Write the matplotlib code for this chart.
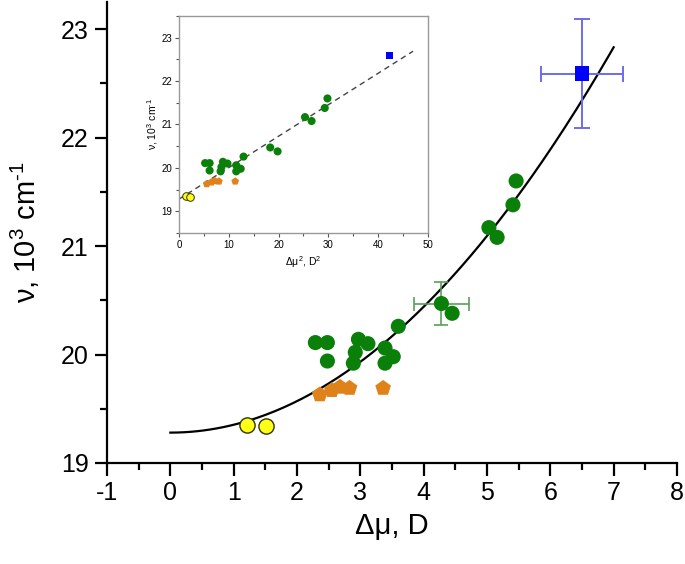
import numpy as np
import matplotlib
matplotlib.use("Agg")
import matplotlib.pyplot as plt

plt.rcParams['font.family'] = ['Liberation Sans', 'DejaVu Sans']
plt.rcParams['mathtext.fontset'] = 'custom'
plt.rcParams['mathtext.rm'] = 'Liberation Sans'
plt.rcParams['mathtext.it'] = 'Liberation Sans'
plt.rcParams['axes.unicode_minus'] = False

# data: dipole moment change (D) and band position (10^3 cm-1)
yellow_x = [1.21, 1.51]
yellow_y = [19.35, 19.34]

orange_x = [2.36, 2.55, 2.68, 2.83, 3.36]
orange_y = [19.63, 19.67, 19.70, 19.69, 19.69]

green_x = [2.29, 2.48, 2.48, 2.97, 3.12, 2.92, 2.89, 3.39, 3.52, 3.39, 3.60,
           4.28, 4.45, 5.03, 5.16, 5.41, 5.46]
green_y = [20.11, 20.11, 19.94, 20.14, 20.10, 20.02, 19.92, 20.06, 19.98, 19.92, 20.26,
           20.47, 20.38, 21.17, 21.08, 21.38, 21.60]

# point with error bars
green_err_x, green_err_y = 4.28, 20.47
green_xerr, green_yerr = 0.43, 0.20

blue_x, blue_y = 6.50, 22.59
blue_xerr, blue_yerr = 0.65, 0.50

# quadratic fit nu = nu0 + k * dmu^2
nu0 = 19.28
k = 0.0725

GREEN = '#0a800a'
ORANGE = '#e0821a'
YELLOW = '#ffff1a'
BLUE = '#0000ff'

ylab = 'ν, 10$^3$ cm$^{\u20101}$'

fig = plt.figure(figsize=(6.85, 5.64), dpi=100)
ax = fig.add_axes([0.1562, 0.1791, 0.8321, 0.8174])

xx = np.linspace(0, 7, 200)
ax.plot(xx, nu0 + k * xx**2, color='black', lw=1.6, zorder=2)

ax.errorbar(green_err_x, green_err_y, xerr=green_xerr, yerr=green_yerr, fmt='none',
            ecolor='#5b9e5b', elinewidth=1.2, capsize=5, capthick=1.2, zorder=3)
ax.errorbar(blue_x, blue_y, xerr=blue_xerr, yerr=blue_yerr, fmt='none',
            ecolor='#6b6bef', elinewidth=1.4, capsize=6, capthick=1.4, zorder=3)

ax.scatter(green_x, green_y, s=118, color=GREEN, edgecolor='none', zorder=4)
ax.scatter(orange_x, orange_y, s=140, marker='p', color=ORANGE, edgecolor='none', zorder=4)
ax.scatter(yellow_x, yellow_y, s=120, color=YELLOW, edgecolor='#333300', lw=1.0, zorder=4)
ax.scatter([blue_x], [blue_y], s=105, marker='s', color=BLUE, edgecolor='none', zorder=5)

ax.set_xlim(-1, 8)
ax.set_ylim(19, 23.25)
ax.set_xticks(np.arange(-1, 9, 1))
ax.set_xticks(np.arange(-0.5, 8, 1), minor=True)
ax.set_yticks([19, 20, 21, 22, 23])
ax.set_yticks([19.5, 20.5, 21.5, 22.5], minor=True)
for s in ['top', 'right']:
    ax.spines[s].set_visible(False)
for s in ['left', 'bottom']:
    ax.spines[s].set_linewidth(1.6)
ax.tick_params(which='major', direction='out', length=9, width=1.6, labelsize=18, pad=4)
ax.tick_params(which='minor', direction='out', length=5, width=1.6)
ax.set_xlabel('Δμ, D', fontsize=21, labelpad=5)
ax.set_ylabel(ylab, fontsize=21, labelpad=14)

# inset: nu vs dmu^2
ins = fig.add_axes([0.2613, 0.5869, 0.3635, 0.3848])
xs = np.linspace(0, 47, 50)
ins.plot(xs, nu0 + k * xs, color='#444444', lw=1.0, ls=(0, (4, 3)), zorder=2)
ins.scatter(np.array(green_x)**2, green_y, s=34, color=GREEN, edgecolor='none', zorder=4)
ins.scatter(np.array(orange_x)**2, orange_y, s=34, marker='p', color=ORANGE, edgecolor='none', zorder=4)
ins.scatter(np.array(yellow_x)**2, yellow_y, s=30, color=YELLOW, edgecolor='#333300', lw=0.7, zorder=4)
ins.scatter([blue_x**2], [blue_y], s=26, marker='s', color=BLUE, edgecolor='none', zorder=5)
ins.set_xlim(0, 50)
ins.set_ylim(18.5, 23.5)
ins.set_xticks(np.arange(0, 51, 10))
ins.set_xticks(np.arange(5, 50, 10), minor=True)
ins.set_yticks([19, 20, 21, 22, 23])
ins.set_yticks(np.arange(18.5, 23.6, 0.5), minor=True)
for s in ins.spines.values():
    s.set_color('#999999')
    s.set_linewidth(1.0)
ins.tick_params(which='major', direction='out', length=3, width=0.8, labelsize=7, pad=2, color='#555555')
ins.tick_params(which='minor', direction='out', length=2, width=0.8, color='#555555')
ins.set_xlabel('Δμ$^2$, D$^2$', fontsize=7.5, labelpad=3)
ins.set_ylabel(ylab, fontsize=7.5, labelpad=1)

fig.savefig('out.png', dpi=100)
